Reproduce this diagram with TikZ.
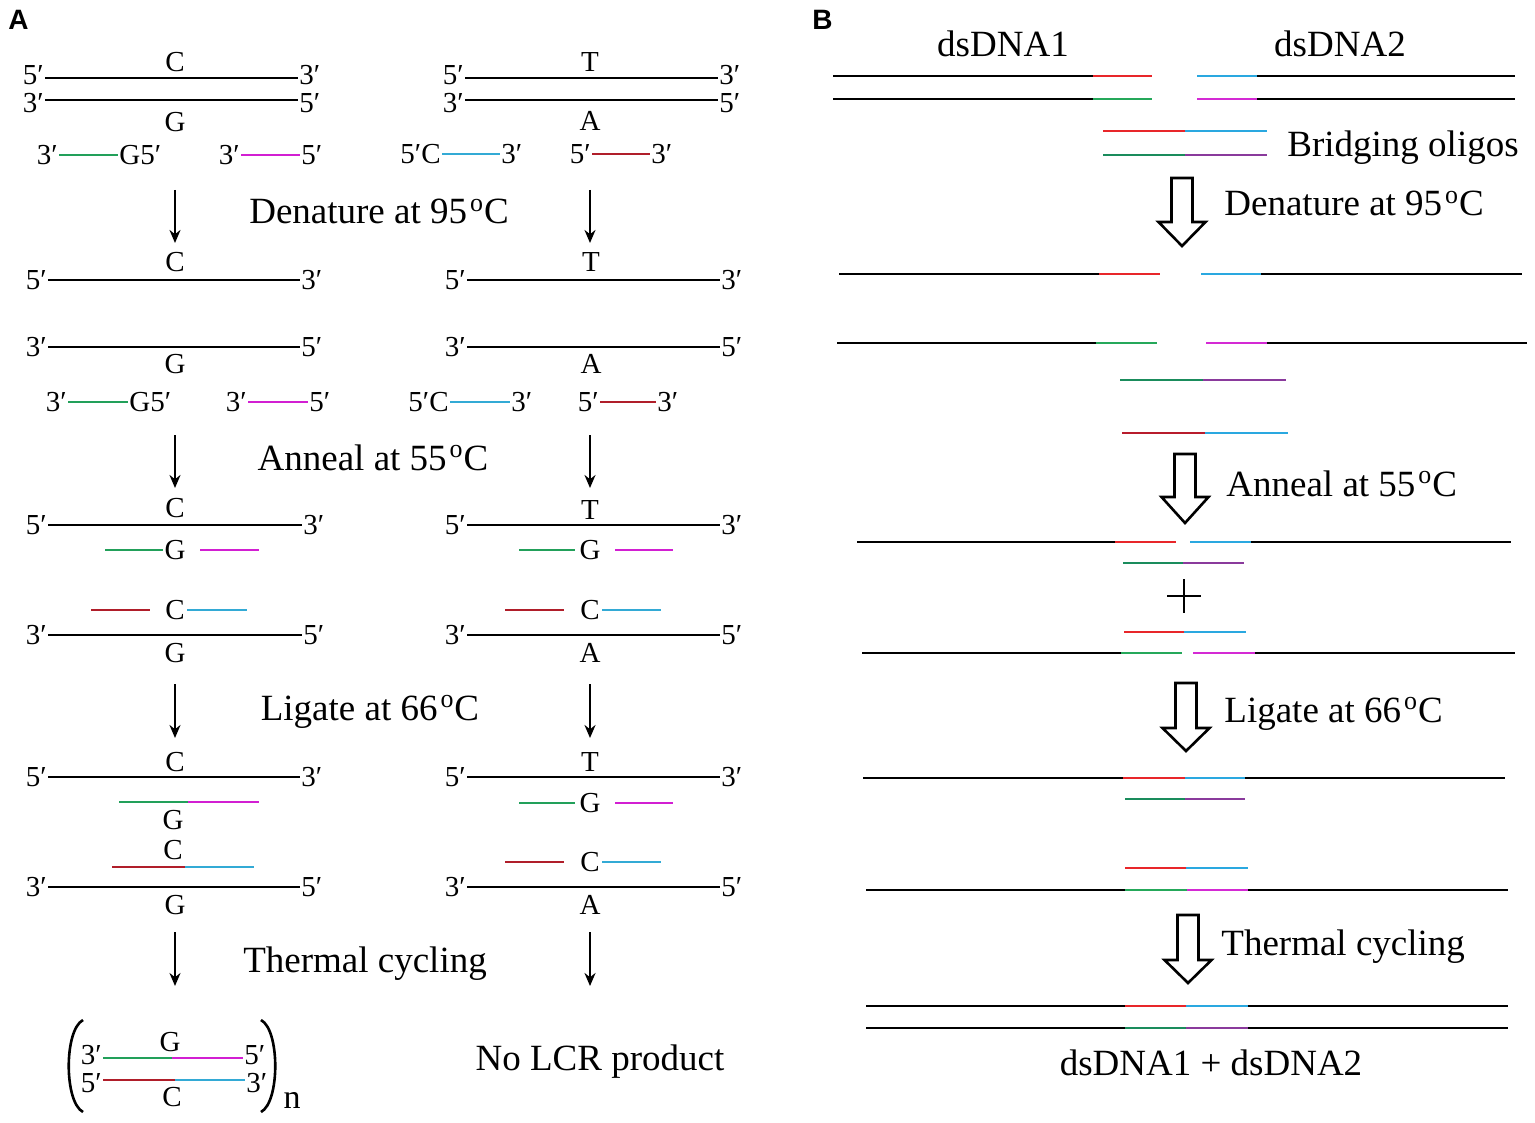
\documentclass[tikz,border=0pt]{standalone}
\usepackage{fontspec}
\setmainfont{Liberation Serif}
\newfontfamily\panelfont{Liberation Sans}
\usetikzlibrary{arrows.meta}
\definecolor{agreen}{HTML}{22A05A}
\definecolor{amag}{HTML}{D21FD2}
\definecolor{acyan}{HTML}{33AAD5}
\definecolor{ared}{HTML}{B01E2A}
\definecolor{bred}{HTML}{E8262A}
\definecolor{dred}{HTML}{B81C2C}
\definecolor{tgreen}{HTML}{1A8C5C}
\definecolor{bpurple}{HTML}{8A3A9C}
\definecolor{bgreen}{HTML}{25A85A}
\definecolor{bmag}{HTML}{D42AD4}
\definecolor{bcyan}{HTML}{2AA8E0}
\newcommand\degC{\kern1.5pt\textsuperscript{o}C}
\tikzset{
  lab/.style={font=\fontsize{14.5}{15}\selectfont, inner sep=0pt},
  steplab/.style={font=\fontsize{18.5}{20}\selectfont, inner sep=0pt, anchor=base},
  strand/.style={line width=1.45pt},
  thinarrow/.style={line width=1.1pt, -{Stealth[length=6.5pt,width=5.5pt]}},
  blockarrow/.style={line width=1.3pt, draw=black, fill=white, line join=miter},
  panellab/.style={font=\panelfont\bfseries\fontsize{14}{14}\selectfont, inner sep=0pt, anchor=north west},
}
% strand with end labels: x1, x2, y, left text, right text, name, label y shift
\newcommand\StrandAB[7]{%
  \draw[strand] (#1,#3) -- (#2,#3);
  \node[lab,anchor=east] (#6l) at (#1-1,#3+#7) {#4};
  \node[lab,anchor=west] (#6r) at (#2+1,#3+#7) {#5};}
% two-colour segment: x1, x2, x3, y, colour1, colour2
\newcommand\TwoSeg[6]{%
  \draw[strand,#5] (#1,#4) -- (#2,#4);
  \draw[strand,#6] (#2,#4) -- (#3,#4);}
% hollow block arrow: name, cx, top, head start, tip
\newcommand\BlockArrow[5]{%
  \coordinate (#1s) at (#2,#3);
  \coordinate (#1e) at (#2,#5);
  \draw[blockarrow] (#2-10.5,#3) -- (#2+10.5,#3) -- (#2+10.5,#4) -- (#2+23.5,#4)
     -- (#1e) -- (#2-23.5,#4) -- (#2-10.5,#4) -- cycle;}
\begin{document}
\begin{tikzpicture}[x=0.5pt,y=-0.5pt]
\useasboundingbox[fill=white] (0,0) rectangle (1535,1123);

%================ PANEL A =================
\node[panellab] (pA) at (8,10) {A};

% ---- row 1
\StrandAB{45}{298}{78}{5′}{3′}{r1a}{-3}
\StrandAB{45}{298}{100}{3′}{5′}{r1b}{3}
\node[lab] (r1C) at (175,62) {C};
\node[lab] (r1G) at (175,122) {G};
\StrandAB{465}{718}{78}{5′}{3′}{r1c}{-3}
\StrandAB{465}{718}{100}{3′}{5′}{r1d}{3}
\node[lab] (r1T) at (590,62) {T};
\node[lab] (r1A) at (590,121) {A};
\draw[strand,agreen] (59,155) -- (118,155);
\node[lab,anchor=east] (p1a) at (58,155) {3′};
\node[lab,anchor=west] (p1b) at (119,155) {G5′};
\draw[strand,amag] (241,155) -- (300,155);
\node[lab,anchor=east] (p1c) at (240,155) {3′};
\node[lab,anchor=west] (p1d) at (301,155) {5′};
\draw[strand,acyan] (442,154) -- (500,154);
\node[lab,anchor=east] (p1e) at (441,154) {5′C};
\node[lab,anchor=west] (p1f) at (501,154) {3′};
\draw[strand,ared] (592,154) -- (650,154);
\node[lab,anchor=east] (p1g) at (591,154) {5′};
\node[lab,anchor=west] (p1h) at (651,154) {3′};

\coordinate (t1s) at (175,190); \coordinate (t1e) at (175,243);
\coordinate (t2s) at (590,190); \coordinate (t2e) at (590,243);
\draw[thinarrow] (t1s) -- (t1e);
\draw[thinarrow] (t2s) -- (t2e);
\node[steplab] (sA1) at (379,224) {Denature at 95\degC};

% ---- row 2
\StrandAB{48}{300}{280}{5′}{3′}{r2a}{0}
\StrandAB{48}{300}{347}{3′}{5′}{r2b}{0}
\node[lab] (r2C) at (175,262) {C};
\node[lab] (r2G) at (175,364) {G};
\StrandAB{467}{720}{280}{5′}{3′}{r2c}{0}
\StrandAB{467}{720}{347}{3′}{5′}{r2d}{0}
\node[lab] (r2T) at (591,262) {T};
\node[lab] (r2A) at (591,364) {A};
\draw[strand,agreen] (68,402) -- (128,402);
\node[lab,anchor=east] (p2a) at (67,402) {3′};
\node[lab,anchor=west] (p2b) at (129,402) {G5′};
\draw[strand,amag] (248,402) -- (308,402);
\node[lab,anchor=east] (p2c) at (247,402) {3′};
\node[lab,anchor=west] (p2d) at (309,402) {5′};
\draw[strand,acyan] (450,402) -- (510,402);
\node[lab,anchor=east] (p2e) at (449,402) {5′C};
\node[lab,anchor=west] (p2f) at (511,402) {3′};
\draw[strand,ared] (600,402) -- (656,402);
\node[lab,anchor=east] (p2g) at (599,402) {5′};
\node[lab,anchor=west] (p2h) at (657,402) {3′};

\coordinate (t3s) at (175,435); \coordinate (t3e) at (175,488);
\coordinate (t4s) at (590,435); \coordinate (t4e) at (590,488);
\draw[thinarrow] (t3s) -- (t3e);
\draw[thinarrow] (t4s) -- (t4e);
\node[steplab] (sA2) at (373,470) {Anneal at 55\degC};

% ---- row 3
\StrandAB{48}{302}{525}{5′}{3′}{r3a}{0}
\StrandAB{48}{302}{635}{3′}{5′}{r3b}{0}
\node[lab] (r3C) at (175,508) {C};
\draw[strand,agreen] (105,550) -- (163,550);
\node[lab] (r3G) at (175,550) {G};
\draw[strand,amag] (200,550) -- (259,550);
\draw[strand,ared] (91,610) -- (150,610);
\node[lab] (r3C2) at (175,610) {C};
\draw[strand,acyan] (187,610) -- (247,610);
\node[lab] (r3G2) at (175,653) {G};
\StrandAB{467}{720}{525}{5′}{3′}{r3c}{0}
\StrandAB{467}{720}{635}{3′}{5′}{r3d}{0}
\node[lab] (r3T) at (590,510) {T};
\draw[strand,agreen] (519,550) -- (575,550);
\node[lab] (r3G3) at (590,550) {G};
\draw[strand,amag] (615,550) -- (673,550);
\draw[strand,ared] (505,610) -- (564,610);
\node[lab] (r3C3) at (590,610) {C};
\draw[strand,acyan] (602,610) -- (661,610);
\node[lab] (r3A) at (590,653) {A};

\coordinate (t5s) at (175,684); \coordinate (t5e) at (175,738);
\coordinate (t6s) at (590,684); \coordinate (t6e) at (590,738);
\draw[thinarrow] (t5s) -- (t5e);
\draw[thinarrow] (t6s) -- (t6e);
\node[steplab] (sA3) at (370,720) {Ligate at 66\degC};

% ---- row 4
\StrandAB{48}{300}{777}{5′}{3′}{r4a}{0}
\StrandAB{48}{300}{887}{3′}{5′}{r4b}{0}
\node[lab] (r4C) at (175,762) {C};
\TwoSeg{119}{188}{259}{802}{agreen}{amag}
\node[lab] (r4G) at (173,820) {G};
\node[lab] (r4C2) at (173,850) {C};
\TwoSeg{112}{185}{254}{867}{ared}{acyan}
\node[lab] (r4G2) at (175,905) {G};
\StrandAB{467}{720}{777}{5′}{3′}{r4c}{0}
\StrandAB{467}{720}{887}{3′}{5′}{r4d}{0}
\node[lab] (r4T) at (590,762) {T};
\draw[strand,agreen] (519,803) -- (575,803);
\node[lab] (r4G3) at (590,803) {G};
\draw[strand,amag] (615,803) -- (673,803);
\draw[strand,ared] (505,862) -- (564,862);
\node[lab] (r4C3) at (590,862) {C};
\draw[strand,acyan] (602,862) -- (661,862);
\node[lab] (r4A) at (590,905) {A};

\coordinate (t7s) at (175,932); \coordinate (t7e) at (175,986);
\coordinate (t8s) at (590,932); \coordinate (t8e) at (590,986);
\draw[thinarrow] (t7s) -- (t7e);
\draw[thinarrow] (t8s) -- (t8e);
\node[steplab] (sA4) at (365,972) {Thermal cycling};

% ---- product
\draw[line width=1.3pt] (83,1020) .. controls (64,1030) and (64,1102) .. (83,1112);
\draw[line width=1.3pt] (261,1020) .. controls (280,1030) and (280,1102) .. (261,1112);
\TwoSeg{103}{172}{243}{1058}{agreen}{amag}
\node[lab,anchor=east] (pr1) at (102,1055) {3′};
\node[lab,anchor=west] (pr2) at (244,1055) {5′};
\node[lab] (prG) at (170,1042) {G};
\TwoSeg{103}{175}{245}{1080}{ared}{acyan}
\node[lab,anchor=east] (pr3) at (102,1083) {5′};
\node[lab,anchor=west] (pr4) at (246,1083) {3′};
\node[lab] (prC) at (172,1097) {C};
\node[lab,font=\fontsize{17}{17}\selectfont,anchor=base] (prn) at (292,1108) {n};
\node[steplab] (noLCR) at (600,1070) {No LCR product};

%================ PANEL B =================
\node[panellab] (pB) at (812,10) {B};
\node[steplab] (ds1) at (1003,57) {dsDNA1};
\node[steplab] (ds2) at (1340,57) {dsDNA2};

% row 1
\draw[strand] (833,76) -- (1093,76);
\draw[strand,bred] (1093,76) -- (1152,76);
\draw[strand,bcyan] (1197,76) -- (1257,76);
\draw[strand] (1257,76) -- (1515,76);
\draw[strand] (833,99) -- (1093,99);
\draw[strand,bgreen] (1093,99) -- (1152,99);
\draw[strand,bmag] (1197,99) -- (1257,99);
\draw[strand] (1257,99) -- (1515,99);
\TwoSeg{1103}{1185}{1267}{131}{bred}{bcyan}
\TwoSeg{1103}{1185}{1267}{155}{tgreen}{bpurple}
\node[steplab,anchor=base west] (bo) at (1287,157) {Bridging oligos};

\BlockArrow{ba1}{1182}{178}{222}{246}
\node[steplab,anchor=base west] (sB1) at (1224,216) {Denature at 95\degC};

% denatured
\draw[strand] (839,274) -- (1099,274);
\draw[strand,bred] (1099,274) -- (1160,274);
\draw[strand,bcyan] (1201,274) -- (1261,274);
\draw[strand] (1261,274) -- (1522,274);
\draw[strand] (837,343) -- (1096,343);
\draw[strand,bgreen] (1096,343) -- (1157,343);
\draw[strand,bmag] (1206,343) -- (1267,343);
\draw[strand] (1267,343) -- (1527,343);
\TwoSeg{1120}{1203}{1286}{380}{tgreen}{bpurple}
\TwoSeg{1122}{1205}{1288}{433}{dred}{bcyan}

\BlockArrow{ba2}{1185}{454}{497}{523}
\node[steplab,anchor=base west] (sB2) at (1226,496) {Anneal at 55\degC};

% annealed
\draw[strand] (857,542) -- (1115,542);
\draw[strand,bred] (1115,542) -- (1176,542);
\draw[strand,bcyan] (1190,542) -- (1251,542);
\draw[strand] (1251,542) -- (1511,542);
\TwoSeg{1123}{1183}{1244}{563}{tgreen}{bpurple}
\coordinate (plusc) at (1184,596);
\draw[line width=1.3pt] (1167,596) -- (1201,596);
\draw[line width=1.3pt] (1184,579) -- (1184,613);
\TwoSeg{1124}{1184}{1246}{632}{bred}{bcyan}
\draw[strand] (862,653) -- (1121,653);
\draw[strand,bgreen] (1121,653) -- (1182,653);
\draw[strand,bmag] (1193,653) -- (1255,653);
\draw[strand] (1255,653) -- (1515,653);

\BlockArrow{ba3}{1186}{683}{728}{751}
\node[steplab,anchor=base west] (sB3) at (1224,722) {Ligate at 66\degC};

% ligated
\draw[strand] (863,778) -- (1123,778);
\TwoSeg{1123}{1185}{1245}{778}{bred}{bcyan}
\draw[strand] (1245,778) -- (1505,778);
\TwoSeg{1125}{1185}{1245}{799}{tgreen}{bpurple}
\TwoSeg{1125}{1186}{1248}{868}{bred}{bcyan}
\draw[strand] (866,890) -- (1125,890);
\TwoSeg{1125}{1187}{1248}{890}{bgreen}{bmag}
\draw[strand] (1248,890) -- (1508,890);

\BlockArrow{ba4}{1188}{915}{960}{983}
\node[steplab,anchor=base west] (sB4) at (1221,955) {Thermal cycling};

% final
\draw[strand] (866,1006) -- (1125,1006);
\TwoSeg{1125}{1186}{1248}{1006}{bred}{bcyan}
\draw[strand] (1248,1006) -- (1508,1006);
\draw[strand] (866,1028) -- (1125,1028);
\TwoSeg{1125}{1186}{1248}{1028}{tgreen}{bpurple}
\draw[strand] (1248,1028) -- (1508,1028);
\node[steplab] (fin) at (1211,1075) {dsDNA1 + dsDNA2};
\end{tikzpicture}
\end{document}
